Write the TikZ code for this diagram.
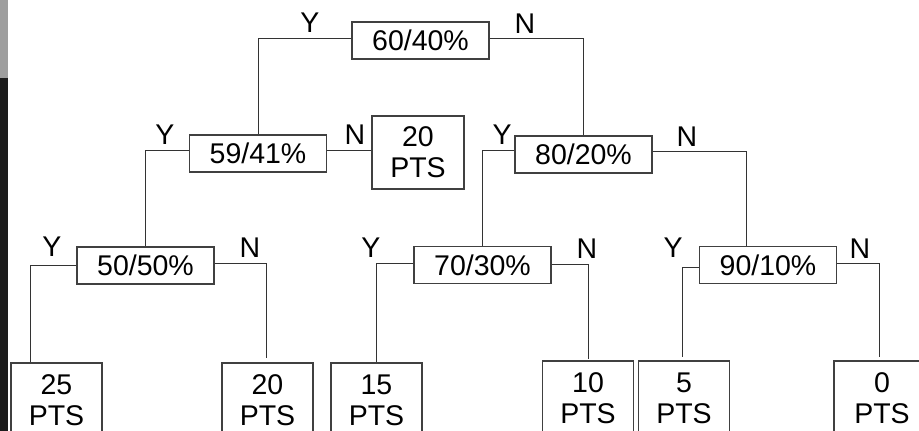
\documentclass[tikz,border=0pt]{standalone}
\usepackage{fontspec}
\setmainfont{Liberation Sans}
\begin{document}
\begin{tikzpicture}[x=1pt,y=-1pt,
  lbl/.style={font=\fontsize{28.5}{32}\selectfont, inner sep=0pt},
  qbox/.style={draw=black!75, line width=1.1pt, minimum width=137pt, minimum height=37pt, inner sep=0pt, font=\fontsize{28.5}{32}\selectfont},
  leaf/.style={draw=black!75, line width=1.1pt, minimum width=91pt, minimum height=74pt, inner sep=0pt, align=center, font=\fontsize{28.5}{31}\selectfont},
  conn/.style={draw=black!80, line width=1pt}]
\useasboundingbox (0,0) rectangle (919,431);
\clip (0,0) rectangle (919,431);
\fill[white] (0,0) rectangle (919,431);
\fill[black!38] (0,0) rectangle (8,78);
\fill[black!89] (0,78) rectangle (8,431);

% question boxes
\node[qbox] (r) at (420.5,40.5) {60/40\%};
\node[qbox] (a) at (258,153.5) {59/41\%};
\node[qbox] (b) at (583.5,154.5) {80/20\%};
\node[qbox] (c) at (145.5,265.5) {50/50\%};
\node[qbox] (d) at (482.5,265) {70/30\%};
\node[qbox] (e) at (768,265) {90/10\%};

% leaves
\node[leaf, minimum height=73pt, minimum width=92pt] (l0) at (418,152.5) {20\\PTS};
\node[leaf] (l1) at (56.5,400) {25\\PTS};
\node[leaf] (l2) at (267.5,400) {20\\PTS};
\node[leaf] (l3) at (376.5,400) {15\\PTS};
\node[leaf] (l4) at (588,398) {10\\PTS};
\node[leaf] (l5) at (684,398) {5\\PTS};
\node[leaf, minimum width=96pt] (l6) at (882,398) {0\\PTS};

% connectors
\draw[conn] ([yshift=2.5]r.west) -| (a.north);
\draw[conn] ([yshift=2.5]r.east) -| (b.north);
\draw[conn] ([yshift=3.5]a.west) -| (c.north);
\draw[conn] ([yshift=3.5]a.east) -- ([yshift=3.5]a.east -| l0.west);
\draw[conn] ([yshift=4]b.west) -| (d.north);
\draw[conn] ([yshift=3.5]b.east) -| ([xshift=-22]e.north);
\draw[conn] (c.west) -| ([xshift=-26.5]l1.north);
\draw[conn, shorten >=4pt] ([yshift=2.5]c.east) -| ([xshift=-1.5]l2.north);
\draw[conn] ([yshift=2]d.west) -| (l3.north);
\draw[conn, shorten >=1pt] ([yshift=1]d.east) -| (l4.north);
\draw[conn, shorten >=3pt] ([yshift=-2]e.west) -| ([xshift=-2]l5.north);
\draw[conn, shorten >=3pt] ([yshift=2]e.east) -| ([xshift=-3]l6.north);

% Y / N labels
\node[lbl] (ry) at (310,23) {Y};
\node[lbl] (rn) at (525,24) {N};
\node[lbl] (ay) at (165,135) {Y};
\node[lbl] (an) at (355,135) {N};
\node[lbl] (by) at (502,135) {Y};
\node[lbl] (bn) at (687,137) {N};
\node[lbl] (cy) at (52,247) {Y};
\node[lbl] (cn) at (250,248) {N};
\node[lbl] (dy) at (371,248) {Y};
\node[lbl] (dn) at (587,249) {N};
\node[lbl] (ey) at (673,248) {Y};
\node[lbl] (en) at (860,249) {N};
\end{tikzpicture}
\end{document}
